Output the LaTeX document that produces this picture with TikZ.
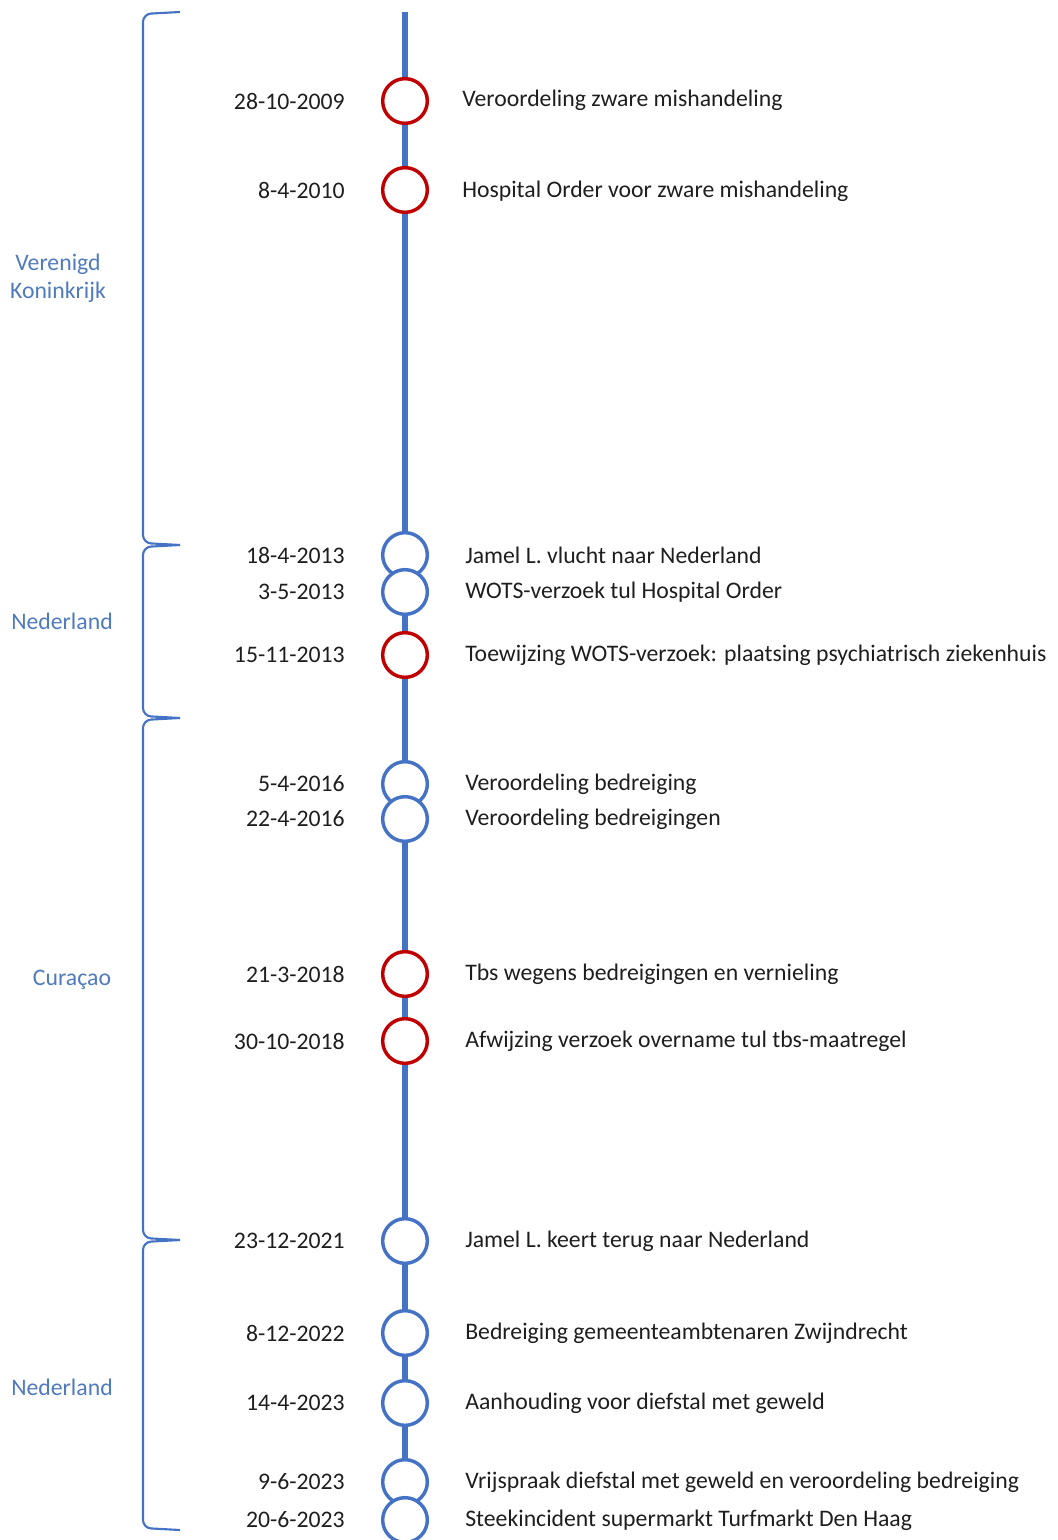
\documentclass[tikz,border=0pt]{standalone}
\usepackage{fontspec}
\setmainfont{Carlito}
\definecolor{tlblue}{RGB}{68,114,196}
\definecolor{tlred}{RGB}{192,0,0}
\definecolor{lblblue}{RGB}{79,122,190}
\definecolor{txt}{RGB}{30,30,30}
\begin{document}
\begin{tikzpicture}[x=0.75pt,y=-0.75pt,
  evtblue/.style={circle,draw=tlblue,line width=2.6pt,fill=white,minimum size=33.5pt,inner sep=0pt},
  evtred/.style={circle,draw=tlred,line width=2.6pt,fill=white,minimum size=33.5pt,inner sep=0pt},
  datelbl/.style={anchor=east,font=\fontsize{17.8}{19}\selectfont,text=txt,inner sep=0pt},
  evtlbl/.style={anchor=west,font=\fontsize{17.8}{19}\selectfont,text=txt,inner sep=0pt},
  regionlbl/.style={align=center,font=\fontsize{17.8}{21}\selectfont,text=lblblue,inner sep=0pt},
  bracket/.style={draw=tlblue,line width=1.6pt,rounded corners=6pt},
  axis/.style={draw=tlblue,line width=5pt}
]
\useasboundingbox (0,0) rectangle (1057,1540);
\coordinate (top) at (405,12);
\coordinate (bot) at (405,1545);
\draw[axis] (top) -- (bot);

% events
\node[evtred]  (e1)  at (405,101)  {};
\node[evtred]  (e2)  at (405,190)  {};
\node[evtblue] (e3)  at (405,555)  {};
\node[evtblue] (e4)  at (405,592)  {};
\node[evtred]  (e5)  at (405,655)  {};
\node[evtblue] (e6)  at (405,784)  {};
\node[evtblue] (e7)  at (405,819)  {};
\node[evtred]  (e8)  at (405,974)  {};
\node[evtred]  (e9)  at (405,1041) {};
\node[evtblue] (e10) at (405,1241) {};
\node[evtblue] (e11) at (405,1333) {};
\node[evtblue] (e12) at (405,1403) {};
\node[evtblue] (e13) at (405,1482) {};
\node[evtblue] (e14) at (405,1520) {};

% dates
\node[datelbl] (d1)  at (345,101)  {28-10-2009};
\node[datelbl] (d2)  at (345,190)  {8-4-2010};
\node[datelbl] (d3)  at (345,555)  {18-4-2013};
\node[datelbl] (d4)  at (345,592)  {3-5-2013};
\node[datelbl] (d5)  at (345,655)  {15-11-2013};
\node[datelbl] (d6)  at (345,784)  {5-4-2016};
\node[datelbl] (d7)  at (345,819)  {22-4-2016};
\node[datelbl] (d8)  at (345,974)  {21-3-2018};
\node[datelbl] (d9)  at (345,1041) {30-10-2018};
\node[datelbl] (d10) at (345,1241) {23-12-2021};
\node[datelbl] (d11) at (345,1333) {8-12-2022};
\node[datelbl] (d12) at (345,1403) {14-4-2023};
\node[datelbl] (d13) at (345,1482) {9-6-2023};
\node[datelbl] (d14) at (345,1520) {20-6-2023};

% descriptions
\node[evtlbl] (t1)  at (462,100)  {Veroordeling zware mishandeling};
\node[evtlbl] (t2)  at (462,191)  {Hospital Order voor zware mishandeling};
\node[evtlbl] (t3)  at (465,555)  {Jamel L. vlucht naar Nederland};
\node[evtlbl] (t4)  at (465,592)  {WOTS-verzoek tul Hospital Order};
\node[evtlbl] (t5)  at (465,655)  {Toewijzing WOTS-verzoek: plaatsing psychiatrisch ziekenhuis};
\node[evtlbl] (t6)  at (465,784)  {Veroordeling bedreiging};
\node[evtlbl] (t7)  at (465,819)  {Veroordeling bedreigingen};
\node[evtlbl] (t8)  at (465,974)  {Tbs wegens bedreigingen en vernieling};
\node[evtlbl] (t9)  at (465,1041) {Afwijzing verzoek overname tul tbs-maatregel};
\node[evtlbl] (t10) at (465,1241) {Jamel L. keert terug naar Nederland};
\node[evtlbl] (t11) at (465,1333) {Bedreiging gemeenteambtenaren Zwijndrecht};
\node[evtlbl] (t12) at (465,1403) {Aanhouding voor diefstal met geweld};
\node[evtlbl] (t13) at (465,1482) {Vrijspraak diefstal met geweld en veroordeling bedreiging};
\node[evtlbl] (t14) at (465,1520) {Steekincident supermarkt Turfmarkt Den Haag};

% brackets
\coordinate (b0) at (180,12);
\coordinate (b1) at (180,545);
\coordinate (b2) at (180,718);
\coordinate (b3) at (180,1240);
\coordinate (b4) at (180,1530);
\draw[bracket] (b0) -- (143,14) -- (143,543) -- (b1);
\draw[bracket] (b1) -- (143,547) -- (143,716) -- (b2);
\draw[bracket] (b2) -- (143,720) -- (143,1238) -- (b3);
\draw[bracket] (b3) -- (143,1242) -- (143,1528) -- (b4);

% region labels
\node[regionlbl] (r1) at (58,278)  {Verenigd\\Koninkrijk};
\node[regionlbl] (r2) at (62,621)  {Nederland};
\node[regionlbl] (r3) at (72,980)  {Curaçao};
\node[regionlbl] (r4) at (62,1387) {Nederland};
\end{tikzpicture}
\end{document}
